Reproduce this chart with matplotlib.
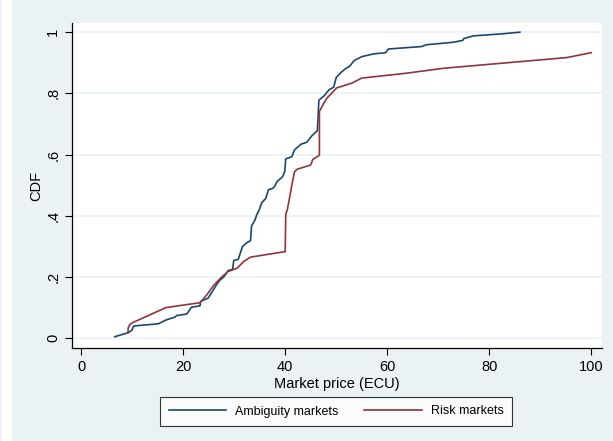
#!/usr/bin/env python3
import matplotlib.pyplot as plt
from matplotlib.patches import Rectangle

plt.rcParams['font.family'] = ['Liberation Sans', 'DejaVu Sans']

# Ambiguity markets (price, CDF)
amb_x = [6.6, 9.2, 9.9, 10.3, 15.1, 16.7, 18.4, 18.7, 20.7, 21.6, 23.3, 23.4, 24.9,
         26.5, 27.1, 28.0, 28.8, 29.7, 29.9, 30.8, 31.6, 32.3, 33.2, 33.4, 34.1,
         34.4, 34.9, 35.4, 36.2, 36.7, 37.6, 38.0, 38.4, 39.5, 39.9, 40.1, 41.3,
         41.8, 43.1, 44.2, 45.2, 46.3, 46.6, 47.5, 48.6, 49.5, 50.0, 50.9, 51.9,
         52.6, 53.5, 55.0, 57.3, 59.7, 60.2, 66.7, 67.7, 72.9, 74.8, 75.0, 76.9,
         82.1, 86.0]
amb_y = [0.005, 0.018, 0.025, 0.040, 0.047, 0.060, 0.069, 0.074, 0.079, 0.101, 0.106,
         0.120, 0.131, 0.174, 0.188, 0.201, 0.221, 0.225, 0.254, 0.258, 0.299, 0.310,
         0.319, 0.367, 0.387, 0.403, 0.419, 0.443, 0.457, 0.485, 0.490, 0.498, 0.512,
         0.528, 0.544, 0.586, 0.593, 0.615, 0.634, 0.640, 0.661, 0.678, 0.778, 0.790,
         0.812, 0.820, 0.852, 0.868, 0.882, 0.888, 0.907, 0.920, 0.929, 0.933, 0.945,
         0.953, 0.959, 0.967, 0.973, 0.979, 0.988, 0.994, 1.0]

# Risk markets (price, CDF)
risk_x = [9.2, 9.2, 9.5, 10.1, 16.6, 23.3, 24.6, 25.9, 27.3, 28.8, 30.6, 31.8, 33.2,
          40.0, 40.1, 40.4, 40.9, 41.3, 41.8, 42.3, 45.0, 45.4, 46.7, 46.7, 47.3,
          48.1, 50.1, 53.0, 55.0, 63.8, 71.0, 95.2, 100.0]
risk_y = [0.018, 0.033, 0.044, 0.051, 0.100, 0.116, 0.141, 0.171, 0.196, 0.218, 0.229,
          0.250, 0.265, 0.283, 0.405, 0.419, 0.463, 0.501, 0.543, 0.552, 0.566, 0.584,
          0.598, 0.741, 0.760, 0.783, 0.818, 0.833, 0.850, 0.866, 0.882, 0.917, 0.933]

xticks = [0, 20, 40, 60, 80, 100]
yticks = [0, 0.2, 0.4, 0.6, 0.8, 1.0]
ylabels = ['0', '.2', '.4', '.6', '.8', '1']

bg = '#EAF2F3'
fig = plt.figure(figsize=(6.13, 4.41), dpi=100, facecolor=bg)
# white strip at the left edge of the crop
fig.patches.append(Rectangle((2 / 613, 0), 10 / 613, 1, transform=fig.transFigure,
                             facecolor='white', edgecolor='none', zorder=0))

ax = fig.add_axes([72 / 613, 1 - 348 / 441, 530 / 613, 325 / 441])
ax.set_facecolor('white')

ax.plot(amb_x, amb_y, color='#1A476F', lw=1.2, label='Ambiguity markets')
ax.plot(risk_x, risk_y, color='#90353B', lw=1.2, label='Risk markets')

ax.set_xlim(-1.8, 102.1)
ax.set_ylim(-0.032, 1.030)

ax.set_xticks(xticks)
ax.set_yticks(yticks)
ax.set_yticklabels(ylabels, rotation=90, va='center')
ax.tick_params(axis='both', labelsize=10.5, length=5, width=0.8, color='black')
ax.grid(axis='y', color='#EAF2F3', lw=1.2)
ax.set_axisbelow(True)

for s in ['top', 'right']:
    ax.spines[s].set_visible(False)
for s in ['left', 'bottom']:
    ax.spines[s].set_linewidth(0.9)

ax.set_xlabel('Market price (ECU)', fontsize=10.5, labelpad=2)
ax.set_ylabel('CDF', fontsize=10.5, labelpad=2)

leg = ax.legend(loc='center', bbox_to_anchor=(336 / 613, 1 - 411.5 / 441),
                bbox_transform=fig.transFigure, ncol=2, frameon=True, fancybox=False,
                fontsize=9, handlelength=4.6, handletextpad=0.7, columnspacing=2.1,
                borderpad=0.7)
leg.get_frame().set_edgecolor('black')
leg.get_frame().set_linewidth(0.8)

fig.savefig('out.png', dpi=100, facecolor=bg)
